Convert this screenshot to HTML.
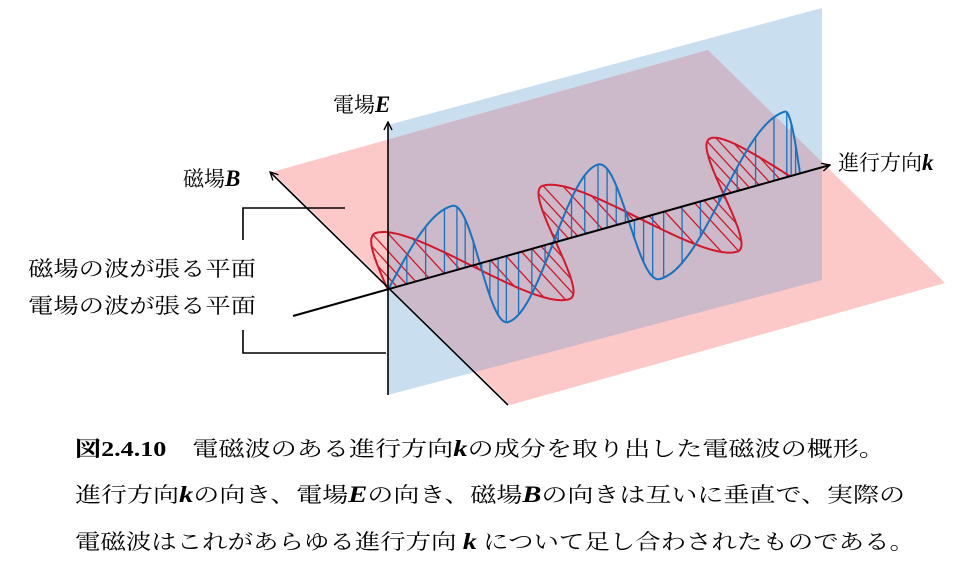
<!DOCTYPE html>
<html><head><meta charset="utf-8">
<style>
html,body{margin:0;padding:0;background:#fff;}
svg{display:block;}
text{font-family:"Liberation Serif","Noto Serif CJK JP","Noto Serif CJK SC",serif;fill:#000;}
.b{font-weight:bold;font-style:italic;font-size:23px;}
</style></head>
<body>
<svg id="s" width="975" height="585" viewBox="0 0 975 585" xmlns="http://www.w3.org/2000/svg">
<defs>
<clipPath id="cb"><polygon points="388,125 822,8 822,280 388,395"/></clipPath>
<marker id="ar" viewBox="0 0 10 10" refX="9" refY="5" markerWidth="10" markerHeight="10" markerUnits="userSpaceOnUse" orient="auto"><path d="M1,1 L9,5 L1,9" fill="none" stroke="#000" stroke-width="1.4"/></marker>
</defs>
<polygon points="388,125 822,8 822,280 388,395" fill="#c9dff0"/>
<polygon points="272,172 708,50 945,283 510,405" fill="#fcc8c8"/>
<polygon points="272,172 708,50 945,283 510,405" fill="#ccb9c9" clip-path="url(#cb)"/>
<g id="waves"></g>
<line x1="388" y1="395" x2="388" y2="122" stroke="#000" stroke-width="1.6" marker-end="url(#ar)"/>
<line x1="508" y1="405" x2="270" y2="172" stroke="#000" stroke-width="1.6" marker-end="url(#ar)"/>
<line x1="293" y1="316" x2="830" y2="165" stroke="#000" stroke-width="2" marker-end="url(#ar)"/>
<polyline points="243,240 243,208 345,208" fill="none" stroke="#000" stroke-width="1.6"/>
<polyline points="243,330 243,353 386,353" fill="none" stroke="#000" stroke-width="1.6"/>
<text x="333" y="112" font-size="21">電場<tspan class="b">E</tspan></text>
<text x="183" y="186" font-size="21">磁場<tspan class="b">B</tspan></text>
<text x="838" y="170" font-size="21">進行方向<tspan class="b">k</tspan></text>
<text x="28" y="276" font-size="21" textLength="228" lengthAdjust="spacingAndGlyphs">磁場の波が張る平面</text>
<text x="28" y="313" font-size="21" textLength="228" lengthAdjust="spacingAndGlyphs">電場の波が張る平面</text>
<text x="75" y="456" font-size="21" textLength="810" lengthAdjust="spacingAndGlyphs"><tspan font-weight="bold">図2.4.10</tspan>　電磁波のある進行方向<tspan class="b">k</tspan>の成分を取り出した電磁波の概形。</text>
<text x="75" y="502" font-size="21" textLength="830" lengthAdjust="spacingAndGlyphs">進行方向<tspan class="b">k</tspan>の向き、電場<tspan class="b">E</tspan>の向き、磁場<tspan class="b">B</tspan>の向きは互いに垂直で、実際の</text>
<text x="75" y="549" font-size="21" textLength="840" lengthAdjust="spacingAndGlyphs">電磁波はこれがあらゆる進行方向 <tspan class="b">k</tspan> について足し合わされたものである。</text>
</svg>
<script>
(function(){
var NS="http://www.w3.org/2000/svg",g=document.getElementById("waves");
function ay(x){return 290-(x-388)*0.283;}
function interp(xs,ph,p){for(var i=0;i<ph.length-1;i++){if(p<=ph[i+1]){var f=(p-ph[i])/(ph[i+1]-ph[i]);return xs[i]+f*(xs[i+1]-xs[i]);}}return xs[xs.length-1];}
var H=Math.PI/2;
var phs=[0,H,3*H,5*H,7*H,9*H,10*H];
var bx=[388,452,508,598,660,785,800];
var rx=[388,420,525,587,693,755,790];
var N=400,bp=[],rp=[];
var bl="",rl="";
for(var i=0;i<=N;i++){
 var p=10*H*i/N,s=Math.sin(p);
 var x=interp(bx,phs,p);bp.push(x.toFixed(1)+","+(ay(x)-66*s).toFixed(1));
 var x2=interp(rx,phs,p);rp.push((x2-44*s).toFixed(1)+","+(ay(x2)-48*s).toFixed(1));
}
var M=34;
for(var j=1;j<M;j++){
 var p=10*H*j/M,s=Math.sin(p);
 var x=interp(bx,phs,p);bl+="M"+x+","+ay(x)+"L"+x+","+(ay(x)-66*s);
 var x2=interp(rx,phs,p);rl+="M"+x2+","+ay(x2)+"L"+(x2-44*s)+","+(ay(x2)-48*s);
}
function add(tag,attrs){var e=document.createElementNS(NS,tag);for(var k in attrs)e.setAttribute(k,attrs[k]);g.appendChild(e);}
add("path",{d:rl,stroke:"#d2182a","stroke-width":"1.3",fill:"none"});
add("path",{d:bl,stroke:"#1573c0","stroke-width":"1.3",fill:"none"});
add("polyline",{points:rp.join(" "),stroke:"#d2182a","stroke-width":"2",fill:"none"});
add("polyline",{points:bp.join(" "),stroke:"#1573c0","stroke-width":"2",fill:"none"});
})();
</script>
</body></html>
